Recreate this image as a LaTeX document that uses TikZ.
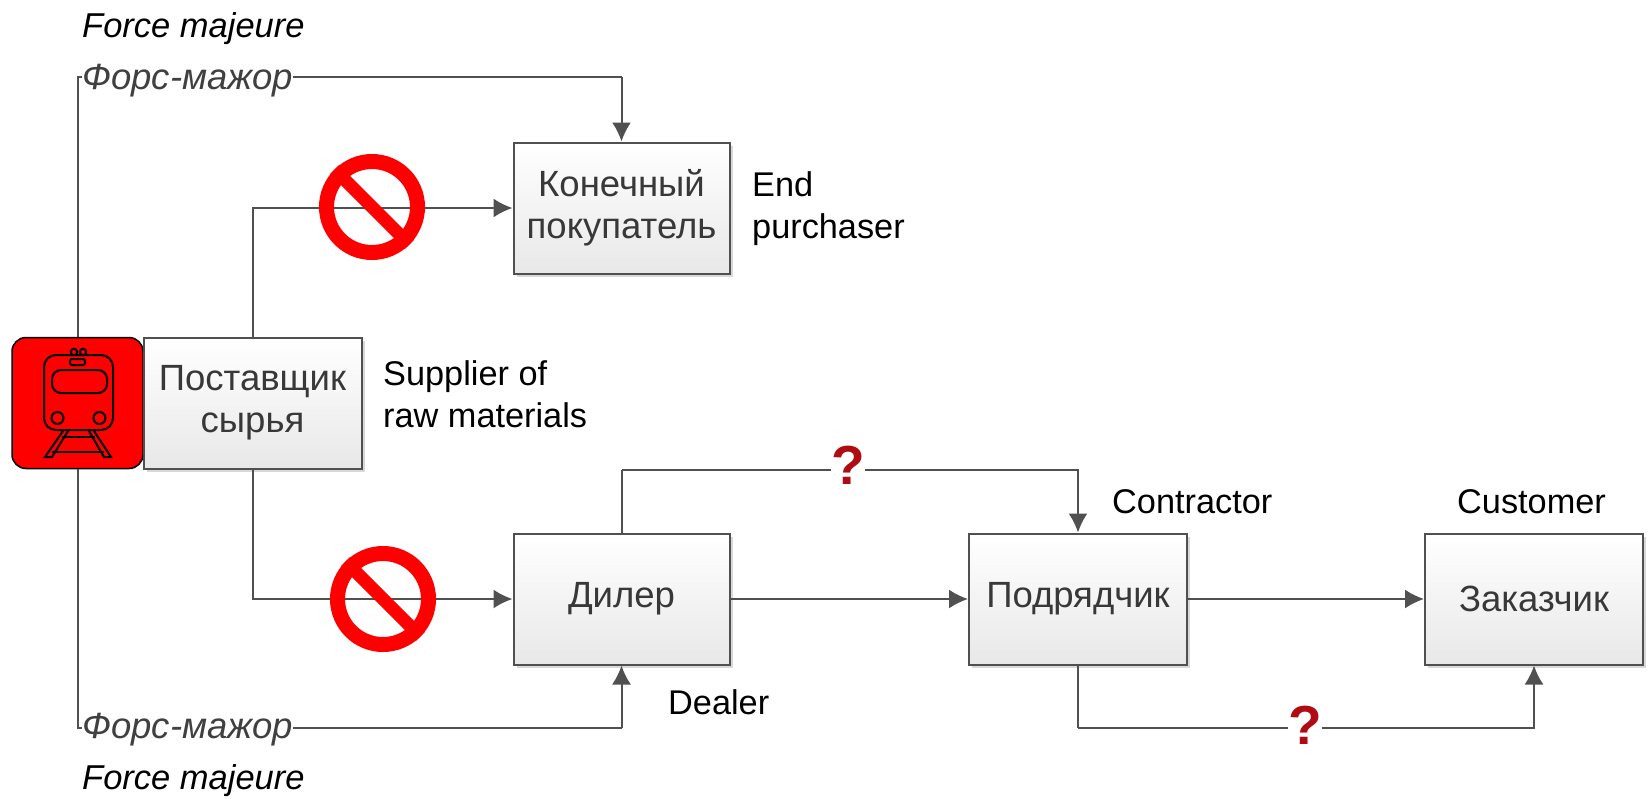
\documentclass[tikz,border=0pt]{standalone}
\usepackage{fontspec}
\setmainfont{Liberation Sans}
\usetikzlibrary{arrows.meta, shadows}
\definecolor{linegray}{HTML}{505050}
\definecolor{qred}{HTML}{B00A12}
\tikzset{
  firm/.style = {draw = linegray, line width = 2pt, top color = white, bottom color = black!9, text = black!78, minimum width = 218pt, minimum height = 131pt, inner sep = 0pt, align = center, font = \fontsize{36.5}{42}\selectfont, drop shadow = {shadow xshift = 3pt, shadow yshift = -3pt, fill = black!30, opacity = .5}},
  flow/.style = {draw = linegray, line width = 2pt, -{Latex[length = 19pt, width = 19pt]}},
  wire/.style = {draw = linegray, line width = 2pt},
  note/.style = {anchor = west, inner sep = 0pt, align = left, font = \fontsize{34.3}{42}\selectfont},
  fmajeure/.style = {note, font = \fontsize{34.5}{42}\selectfont\itshape},
  fmajor/.style = {fmajeure, font = \fontsize{36.5}{42}\selectfont\itshape, text = black!75, fill = white},
  forbid/.style = {draw = red, circle, line width = 15pt, minimum size = 91pt, inner sep = 0pt},
  doubt/.style = {fill = white, inner sep = 0pt, text = qred, font = \fontsize{55}{55}\selectfont\bfseries}
}
\begin{document}
\begin{tikzpicture}[x = 1pt, y = -1pt]
\useasboundingbox (0,0) rectangle (1648,798);
\node[draw, fill = red, rounded corners = 14pt, line width = 1.5pt, minimum width = 131pt, minimum height = 131pt] (train) at (77.5,403) {};
\node[firm] (supplier) at (252.5,403) {Поставщик\\сырья};
\node[firm, minimum width = 216pt] (buyer) at (621.5,208) {Конечный\\покупатель};
\node[firm, minimum width = 216pt] (dealer) at (621.5,599) {\raisebox{-2pt}{Дилер}};
\node[firm] (contractor) at (1078,599) {Подрядчик};
\node[firm] (customer) at (1534,599) {Заказчик};

\coordinate (topturn) at (621.5,77);
\coordinate (lowturn) at (621.5,728);
\draw [wire] (train.north) |- (topturn);
\draw [flow] (topturn) -- (buyer.north);
\draw [wire] (train.south) |- (lowturn);
\draw [flow] (lowturn) -- (dealer.south);
\draw [flow] (supplier.north) |- (buyer.west);
\draw [flow] (supplier.south) |- (dealer.west);
\draw [flow] (dealer) -- (contractor);
\draw [flow] (contractor) -- (customer);
\coordinate (askturn) at (621.5,470);
\coordinate (askdown) at (1078,470);
\draw [wire] (dealer.north) -- (askturn);
\draw [flow] (askturn) -- (askdown) -- (contractor.north);
\coordinate (lowask) at (1078,728);
\coordinate (lowup) at (1534,728);
\draw [wire] (contractor.south) -- (lowask);
\draw [flow] (lowask) -- (lowup) -- (customer.south);

\node[fmajor] (fmtop) at (82,81) {Форс-мажор};
\node[fmajor] (fmlow) at (82,730) {Форс-мажор};
\node[fmajeure] (fjtop) at (82,29) {Force majeure};
\node[fmajeure] (fjlow) at (82,781) {Force majeure};
\node[note] (buyernote) at (752,209) {End\\purchaser};
\node[note] (suppliernote) at (383,394) {Supplier of\\raw materials};
\node[note] (contractornote) at (1112,502) {Contractor};
\node[note] (customernote) at (1457,502) {Customer};
\node[note] (dealernote) at (668,702) {Dealer};
\node[doubt] (askone) at (848,465) {?};
\node[doubt] (asktwo) at (1305,725) {?};

\node[forbid] (stopone) at (372,207) {};
\draw [red, line width = 13pt] (stopone.135) -- (stopone.-45);
\node[forbid] (stoptwo) at (383,599) {};
\draw [red, line width = 13pt] (stoptwo.135) -- (stoptwo.-45);

% train icon
\begin{scope}[line width = 2pt]
\draw [rounded corners = 12pt] (44,355) rectangle (113,430);
\draw [rounded corners = 9pt] (52,370) rectangle (107,393);
\draw [rounded corners = 2pt] (70,359) rectangle (85,365);
\draw (74,352) circle (3.2);
\draw (83,352) circle (3.2);
\draw (57.5,418) circle (6);
\draw (99.5,418) circle (6);
\draw (63,431) -- (45,457) -- (52,457) -- (68,431);
\draw (94,431) -- (111,457) -- (104,457) -- (89,431);
\draw (62,437) -- (95,437);
\draw (52,452) -- (104,452);
\end{scope}
\end{tikzpicture}
\end{document}
